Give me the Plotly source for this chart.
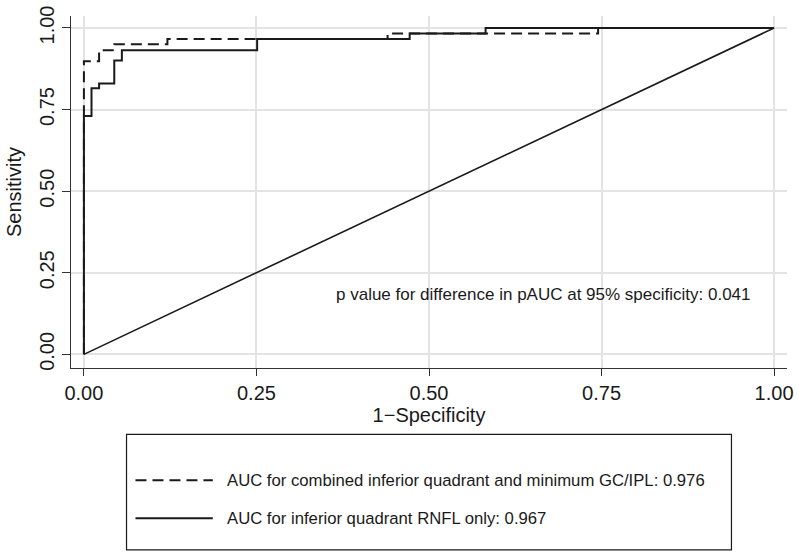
import plotly.graph_objects as go

# ---- data ----
fpr_combined = [0.0, 0.0, 0.022, 0.044, 0.121, 0.440, 0.745, 1.0]
tpr_combined = [0.0, 0.898, 0.932, 0.950, 0.966, 0.983, 1.0, 1.0]

fpr_rnfl = [0.0, 0.0, 0.011, 0.022, 0.044, 0.055, 0.251, 0.472, 0.582, 1.0]
tpr_rnfl = [0.0, 0.730, 0.815, 0.830, 0.900, 0.932, 0.966, 0.983, 1.0, 1.0]

ref_x = [0.0, 1.0]
ref_y = [0.0, 1.0]

tick_vals = [0.0, 0.25, 0.50, 0.75, 1.00]
tick_text = ["0.00", "0.25", "0.50", "0.75", "1.00"]

legend_labels = [
    "AUC for combined inferior quadrant and minimum GC/IPL: 0.976",
    "AUC for inferior quadrant RNFL only: 0.967",
]
pvalue_text = "p value for difference in pAUC at 95% specificity: 0.041"

FONT = "Liberation Sans, Arial, Helvetica, sans-serif"
INK = "#1a1a1a"
GRID = "#e3e3e3"

fig = go.Figure()
fig.add_trace(go.Scatter(x=ref_x, y=ref_y, mode="lines",
                         line=dict(color=INK, width=1.6), showlegend=False,
                         hoverinfo="skip"))
fig.add_trace(go.Scatter(x=fpr_combined, y=tpr_combined, mode="lines",
                         line=dict(color=INK, width=2, dash="11px,6px", shape="hv"),
                         name=legend_labels[0], showlegend=False))
fig.add_trace(go.Scatter(x=fpr_rnfl, y=tpr_rnfl, mode="lines",
                         line=dict(color=INK, width=2, shape="hv"),
                         name=legend_labels[1], showlegend=False))

W, H = 799, 557
ml, mr, mt, mb = 71, 6, 7, 189
pw, ph = W - ml - mr, H - mt - mb

def px_x(p):
    return (p - ml) / pw

def px_y(p):
    return 1 - (p - mt) / ph

# p value annotation
fig.add_annotation(x=0.362, y=0.182, xref="x", yref="y", text=pvalue_text,
                   showarrow=False, xanchor="left", yanchor="middle",
                   font=dict(family=FONT, size=17, color=INK))

# manual legend box
fig.add_shape(type="rect", xref="paper", yref="paper",
              x0=px_x(127), x1=px_x(737), y0=px_y(554.5), y1=px_y(436),
              line=dict(color=INK, width=1.2), fillcolor="white")
entry_y = [483, 522]
dashes = ["11px,6px", "solid"]
for yy, lab, dsh in zip(entry_y, legend_labels, dashes):
    fig.add_shape(type="line", xref="paper", yref="paper",
                  x0=px_x(136), x1=px_x(214), y0=px_y(yy), y1=px_y(yy),
                  line=dict(color=INK, width=2, dash=dsh))
    fig.add_annotation(x=px_x(226), y=px_y(yy), xref="paper", yref="paper",
                       text=lab, showarrow=False, xanchor="left", yanchor="middle",
                       font=dict(family=FONT, size=16.7, color=INK))

axis_common = dict(
    tickvals=tick_vals, ticktext=tick_text,
    showline=True, linecolor="#333333", linewidth=1.3,
    ticks="outside", tickcolor="#333333", tickwidth=1.3,
    showgrid=True, gridcolor=GRID, gridwidth=1.5,
    zeroline=False, mirror=False,
    ticklabeloverflow="allow",
    tickfont=dict(family=FONT, size=20, color=INK),
)

fig.update_layout(
    width=W, height=H,
    margin=dict(l=ml, r=mr, t=mt, b=mb),
    paper_bgcolor="white", plot_bgcolor="white",
    showlegend=False,
    font=dict(family=FONT, color=INK),
    xaxis=dict(range=[-0.0187, 1.0187], ticklen=7,
               title=dict(text="1\u2212Specificity", standoff=4,
                          font=dict(family=FONT, size=20, color=INK)),
               **axis_common),
    yaxis=dict(range=[-0.0418, 1.0367], ticklen=8, tickangle=-90,
               title=dict(text="Sensitivity", standoff=8,
                          font=dict(family=FONT, size=20, color=INK)),
               **axis_common),
)

fig.write_html("out.html",
               config={"displayModeBar": False},
               post_script="document.body.style.margin='0';document.body.style.overflow='hidden';")
